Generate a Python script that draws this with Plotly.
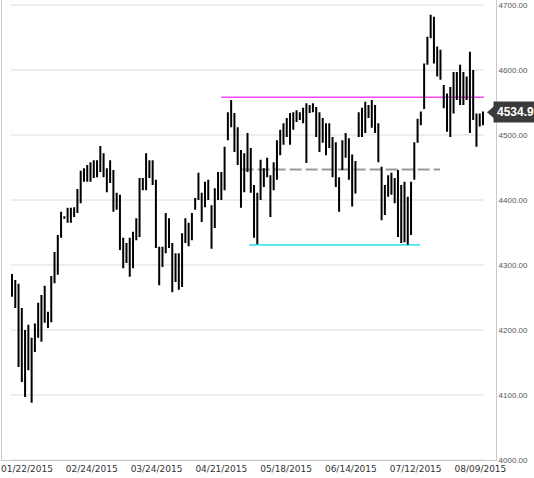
import plotly.graph_objects as go

# ---- data ----
high = [4286, 4277, 4271, 4234, 4200, 4208, 4188, 4210, 4242, 4254,
        4268, 4228, 4283, 4320, 4346, 4382, 4375, 4388, 4388, 4389,
        4417, 4445, 4449, 4454, 4458, 4461, 4461, 4483, 4472, 4449,
        4461, 4446, 4411, 4408, 4342, 4334, 4342, 4351, 4372, 4434,
        4434, 4472, 4461, 4461, 4431, 4328, 4328, 4380, 4372, 4334,
        4318, 4318, 4349, 4372, 4365, 4380, 4403, 4442, 4411, 4428,
        4431, 4392, 4418, 4443, 4443, 4482, 4535, 4554, 4534, 4512,
        4477, 4472, 4503, 4480, 4423, 4411, 4462, 4449, 4465, 4438,
        4458, 4492, 4508, 4518, 4526, 4534, 4535, 4538, 4535, 4542,
        4549, 4546, 4549, 4543, 4535, 4526, 4518, 4518, 4497, 4489,
        4435, 4492, 4503, 4495, 4470, 4460, 4535, 4542, 4551, 4546,
        4554, 4546, 4518, 4451, 4423, 4438, 4442, 4434, 4446, 4423,
        4428, 4405, 4428, 4489, 4525, 4536, 4610, 4651, 4685, 4682,
        4636, 4631, 4577, 4564, 4574, 4597, 4597, 4608, 4597, 4590,
        4628, 4600, 4533, 4533, 4536]

low = [4251, 4234, 4143, 4120, 4097, 4138, 4088, 4166, 4188, 4182,
       4211, 4203, 4212, 4272, 4285, 4342, 4371, 4365, 4365, 4374,
       4380, 4395, 4428, 4428, 4428, 4434, 4435, 4443, 4435, 4412,
       4426, 4382, 4385, 4323, 4295, 4303, 4282, 4295, 4338, 4343,
       4415, 4415, 4434, 4423, 4326, 4269, 4297, 4318, 4326, 4258,
       4274, 4262, 4266, 4334, 4329, 4338, 4385, 4400, 4366, 4389,
       4400, 4325, 4357, 4400, 4400, 4415, 4492, 4512, 4474, 4454,
       4388, 4412, 4443, 4411, 4342, 4332, 4400, 4420, 4435, 4374,
       4415, 4431, 4469, 4485, 4497, 4485, 4508, 4520, 4523, 4518,
       4457, 4534, 4535, 4497, 4474, 4488, 4469, 4480, 4435, 4420,
       4382, 4446, 4465, 4431, 4390, 4410, 4497, 4497, 4503, 4526,
       4511, 4503, 4458, 4369, 4377, 4405, 4408, 4395, 4343, 4334,
       4335, 4331, 4346, 4431, 4488, 4515, 4540, 4608, 4649, 4610,
       4590, 4585, 4541, 4505, 4497, 4533, 4554, 4546, 4546, 4554,
       4503, 4523, 4482, 4513, 4515]

open_ = [4280, 4265, 4255, 4200, 4130, 4150, 4180, 4175, 4190, 4220,
         4215, 4225, 4215, 4275, 4295, 4345, 4372, 4370, 4378, 4376,
         4385, 4405, 4432, 4438, 4440, 4450, 4440, 4450, 4460, 4445,
         4430, 4440, 4390, 4400, 4335, 4310, 4330, 4300, 4340, 4360,
         4420, 4425, 4455, 4445, 4430, 4320, 4305, 4325, 4360, 4330,
         4285, 4300, 4290, 4345, 4360, 4345, 4390, 4405, 4410, 4395,
         4410, 4385, 4360, 4405, 4425, 4430, 4500, 4520, 4525, 4490,
         4465, 4420, 4455, 4470, 4420, 4400, 4410, 4430, 4440, 4435,
         4420, 4440, 4475, 4495, 4505, 4515, 4510, 4525, 4530, 4528,
         4535, 4540, 4540, 4538, 4520, 4495, 4505, 4485, 4490, 4450,
         4425, 4450, 4475, 4485, 4440, 4420, 4500, 4510, 4525, 4535,
         4535, 4525, 4510, 4450, 4390, 4410, 4420, 4425, 4420, 4400,
         4360, 4370, 4350, 4440, 4490, 4520, 4545, 4610, 4655, 4670,
         4625, 4600, 4570, 4545, 4540, 4545, 4560, 4555, 4560, 4560,
         4560, 4570, 4525, 4520, 4520]

close = [4266, 4255, 4170, 4135, 4140, 4190, 4105, 4180, 4215, 4205,
         4245, 4215, 4270, 4300, 4335, 4372, 4373, 4375, 4370, 4385,
         4410, 4430, 4440, 4445, 4450, 4445, 4455, 4455, 4445, 4420,
         4440, 4390, 4400, 4335, 4310, 4320, 4300, 4325, 4360, 4420,
         4425, 4455, 4445, 4430, 4335, 4300, 4320, 4360, 4335, 4275,
         4300, 4290, 4345, 4360, 4345, 4360, 4395, 4420, 4380, 4410,
         4420, 4340, 4400, 4430, 4430, 4470, 4510, 4530, 4490, 4470,
         4400, 4450, 4460, 4430, 4350, 4345, 4430, 4440, 4445, 4390,
         4430, 4470, 4490, 4500, 4510, 4500, 4525, 4530, 4530, 4530,
         4465, 4540, 4540, 4520, 4490, 4510, 4480, 4500, 4445, 4430,
         4400, 4470, 4480, 4445, 4400, 4440, 4520, 4530, 4535, 4535,
         4520, 4515, 4465, 4380, 4410, 4420, 4425, 4405, 4350, 4350,
         4345, 4340, 4410, 4470, 4505, 4530, 4600, 4640, 4660, 4620,
         4600, 4600, 4555, 4550, 4555, 4560, 4560, 4560, 4555, 4560,
         4520, 4530, 4520, 4520, 4534.9]

bar_index = list(range(len(high)))

tick_positions = [4.6, 24.4, 44.2, 64.0, 83.8, 103.6, 123.4, 143.2]
tick_labels = ["01/22/2015", "02/24/2015", "03/24/2015", "04/21/2015",
               "05/18/2015", "06/14/2015", "07/12/2015", "08/09/2015"]

y_ticks = [4000, 4100, 4200, 4300, 4400, 4500, 4600, 4700]

# drawn levels: (value, start index, end index)
resistance = (4558, 64.0, 144.3)
support = (4331, 72.5, 124.8)
midline = (4447, 70.2, 130.9)

last_value = close[-1]

# ---- geometry ----
W, H = 534, 478
ml, mr, mt, mb = 2, 38, 0, 18
plot_w = W - ml - mr
plot_h = H - mt - mb
px_per_bar = 471 / 144.0
x0 = -10 / px_per_bar
x1 = x0 + plot_w / px_per_bar
px_per_unit = 0.65
y_range = [4000, 4000 + plot_h / px_per_unit]

fig = go.Figure()
fig.add_trace(go.Ohlc(
    x=bar_index, open=open_, high=high, low=low, close=close,
    increasing=dict(line=dict(color="#000000", width=2)),
    decreasing=dict(line=dict(color="#000000", width=2)),
    tickwidth=0.05, hoverinfo="skip", showlegend=False,
))

shapes = []
for v in y_ticks:
    shapes.append(dict(type="line", xref="x", yref="y", x0=-0.3, x1=144.3,
                       y0=v, y1=v, line=dict(color="#dcdcdc", width=1),
                       layer="below"))
shapes.append(dict(type="line", xref="x", yref="y", x0=resistance[1], x1=resistance[2],
                   y0=resistance[0], y1=resistance[0],
                   line=dict(color="#f048f0", width=1.6), layer="below"))
shapes.append(dict(type="line", xref="x", yref="y", x0=support[1], x1=support[2],
                   y0=support[0], y1=support[0],
                   line=dict(color="#44e4f0", width=1.6), layer="below"))
shapes.append(dict(type="line", xref="x", yref="y", x0=midline[1], x1=midline[2],
                   y0=midline[0], y1=midline[0],
                   line=dict(color="#9a9a9a", width=2, dash="12px,4px"), layer="below"))

# price tag pointer
def px_to_paper(px):
    return (px - ml) / plot_w

half = 6 / px_per_unit
shapes.append(dict(type="path", xref="paper", yref="y",
                   path=f"M {px_to_paper(487)} {last_value} L {px_to_paper(494)} {last_value + half} "
                        f"L {px_to_paper(494)} {last_value - half} Z",
                   fillcolor="#3b3b3b", line=dict(width=0), layer="above"))

fig.update_layout(
    width=W, height=H,
    margin=dict(l=ml, r=mr, t=mt, b=mb, pad=0),
    paper_bgcolor="white", plot_bgcolor="white",
    shapes=shapes,
    showlegend=False,
    annotations=[dict(
        xref="paper", yref="y", x=px_to_paper(493), y=last_value,
        xanchor="left", yanchor="middle", showarrow=False,
        text=f"<b>{last_value}</b>",
        font=dict(family="Liberation Sans, Arial, sans-serif", size=12, color="white"),
        bgcolor="#3b3b3b", borderpad=3,
    )],
)

fig.update_xaxes(
    range=[x0, x1], rangeslider=dict(visible=False),
    tickmode="array", tickvals=tick_positions, ticktext=tick_labels,
    showgrid=False, zeroline=False, ticks="",
    showline=True, linecolor="#c8c8c8", linewidth=1,
    tickfont=dict(family="DejaVu Sans, Verdana, sans-serif", size=9, color="#333333"),
)
fig.update_yaxes(
    range=y_range, side="right",
    tickmode="array", tickvals=y_ticks, ticktext=[f"{v:.2f}" for v in y_ticks],
    showgrid=False, zeroline=False, ticks="",
    showline=True, mirror=True, linecolor="#c8c8c8", linewidth=1,
    tickfont=dict(family="Liberation Sans, Arial, sans-serif", size=8, color="#555555"),
)

fig.write_html("out.html", config={"displayModeBar": False},
               post_script="document.body.style.margin='0px';document.body.style.padding='0px';")
